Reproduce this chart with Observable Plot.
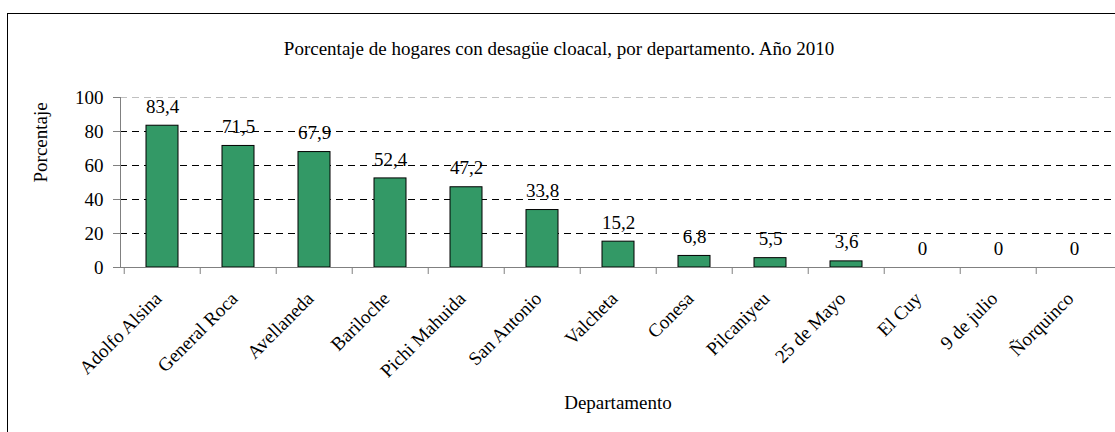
<!DOCTYPE html>
<html><head><meta charset="utf-8">
<script src="https://cdn.jsdelivr.net/npm/d3@7"></script>
<script src="https://cdn.jsdelivr.net/npm/@observablehq/plot@0.6"></script>
<style>
html,body{margin:0;padding:0;background:#fff;overflow:hidden}
#wrap{position:relative;width:1115px;height:432px}
#frame{position:absolute;left:7px;top:13px;width:1200px;height:500px;border:1px solid #000;box-sizing:border-box;pointer-events:none}
svg, svg text{font-family:"Liberation Serif","Tinos","Times New Roman","DejaVu Serif",serif !important}
</style></head><body><div id="wrap"><div id="chart"></div><div id="frame"></div></div>
<script>
const titulo = "Porcentaje de hogares con desagüe cloacal, por departamento. Año 2010";
const ejeY = "Porcentaje";
const ejeX = "Departamento";
const categorias = ["Adolfo Alsina","General Roca","Avellaneda","Bariloche","Pichi Mahuida","San Antonio","Valcheta","Conesa","Pilcaniyeu","25 de Mayo","El Cuy","9 de julio","Ñorquinco"];
const valores = [83.4,71.5,67.9,52.4,47.2,33.8,15.2,6.8,5.5,3.6,0,0,0];
const yTicks = [0,20,40,60,80,100];
const gridTicks = [20,40,60,80];

const data = categorias.map((d,i)=>({d, v: valores[i]}));
const fmt = v => String(v).replace(".", ",");

const W = 1115, ML = 120, MR = 0;
const bw = (W - ML - MR) / categorias.length;
const font = "'Liberation Serif', 'Times New Roman', 'DejaVu Serif', serif";
const fs = 19;

const chart = Plot.plot({
  width: W, height: 432,
  marginLeft: ML, marginRight: MR, marginTop: 97, marginBottom: 165,
  style: {fontFamily: font, fontSize: fs + "px", color: "#000", background: "transparent", overflow: "visible"},
  x: {domain: categorias, paddingInner: 0.58, paddingOuter: 0.29, label: null},
  y: {domain: [0,100], label: null},
  marks: [
    Plot.ruleY(gridTicks, {stroke: "#000", strokeDasharray: "7,5"}),
    Plot.ruleY([100], {stroke: "#c0c0c0", strokeDasharray: "7,5"}),
    Plot.barY(data, {x: "d", y: "v", fill: "#339966", stroke: "#000", strokeWidth: 1}),
    Plot.ruleY([0], {stroke: "#808080"}),
    Plot.frame({anchor: "left", stroke: "#808080"}),
    Plot.axisY({ticks: yTicks, tickSize: 7, tickPadding: 10, stroke: "#808080", fill: "#000", fontSize: fs, label: null}),
    Plot.axisX({tickSize: 7, tickFormat: () => "", dx: -bw/2, stroke: "#808080", label: null}),
    Plot.axisX({tickSize: 0, tickRotate: -45, tickPadding: 28, dx: -4, fill: "#000", fontSize: fs, label: null}),
    Plot.text(data, {x: "d", y: "v", text: d => fmt(d.v), dy: -19, fontSize: fs, fill: "#000"}),
    Plot.text([titulo], {frameAnchor: "top", dy: -56, dx: -59, fontSize: fs, fill: "#000"}),
    Plot.text([ejeY], {frameAnchor: "left", dx: -80, rotate: -90, fontSize: fs, fill: "#000"}),
    Plot.text([ejeX], {frameAnchor: "bottom", dy: 141, dx: 0, fontSize: fs, fill: "#000"})
  ]
});
document.getElementById("chart").appendChild(chart);
</script></body></html>
